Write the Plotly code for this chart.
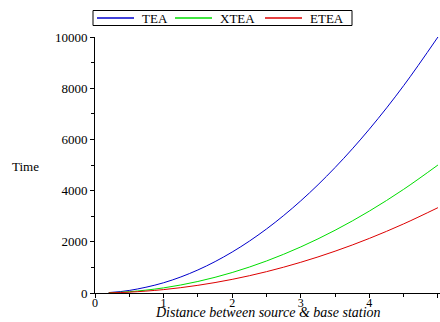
import plotly.graph_objects as go

distance = [0.2, 0.5, 1.0, 1.5, 2.0, 2.5, 3.0, 3.5, 4.0, 4.5, 5.0]
tea = [16, 100, 400, 900, 1600, 2500, 3600, 4900, 6400, 8100, 10000]
xtea = [8, 50, 200, 450, 800, 1250, 1800, 2450, 3200, 4050, 5000]
etea = [5, 33, 133, 300, 533, 833, 1200, 1633, 2133, 2700, 3333]
y_ticks = [0, 2000, 4000, 6000, 8000, 10000]
x_ticks = [0, 1, 2, 3, 4, 5]
series_names = ["TEA", "XTEA", "ETEA"]
series_colors = ["#0000cc", "#00dd00", "#dd0000"]

W, H = 440, 322
L, R, T, B = 95, 0, 37, 29
PW, PH = W - L - R, H - T - B
font = "Liberation Serif"


def px_x(p):
    return (p - L) / PW


def px_y(p):
    return (H - B - p) / PH


fig = go.Figure()
for name, vals, col in zip(series_names, [tea, xtea, etea], series_colors):
    fig.add_trace(go.Scatter(x=distance, y=vals, mode="lines", name=name,
                             line=dict(color=col, width=1, shape="spline")))

# compact legend box as in the reference
shapes = [dict(type="rect", xref="paper", yref="paper",
               x0=px_x(93), x1=px_x(352), y0=px_y(25.5), y1=px_y(10.5),
               line=dict(color="black", width=1), fillcolor="white", layer="above")]
annotations = []
line_starts = [97, 175, 265]
for name, col, x0 in zip(series_names, series_colors, line_starts):
    shapes.append(dict(type="line", xref="paper", yref="paper",
                       x0=px_x(x0), x1=px_x(x0 + 37), y0=px_y(18), y1=px_y(18),
                       line=dict(color=col, width=1.3), layer="above"))
    annotations.append(dict(text=name, xref="paper", yref="paper",
                            x=px_x(x0 + 43), y=px_y(18), xanchor="left", yanchor="middle",
                            showarrow=False, font=dict(family=font, size=13, color="black")))

annotations.append(dict(text="Time", xref="paper", yref="paper", x=px_x(25), y=px_y(166),
                        xanchor="center", yanchor="middle", showarrow=False,
                        font=dict(family=font, size=13, color="black")))
annotations.append(dict(text="<i>Distance between source &amp; base station</i>",
                        xref="paper", yref="paper", x=px_x(268), y=px_y(322),
                        xanchor="center", yanchor="bottom", showarrow=False,
                        font=dict(family=font, size=14, color="black")))

fig.update_layout(
    width=W, height=H,
    margin=dict(l=L, r=R, t=T, b=B, autoexpand=False),
    paper_bgcolor="white", plot_bgcolor="white",
    font=dict(family=font, size=13, color="black"),
    showlegend=False,
    xaxis=dict(range=[0, 5.03], tickvals=x_ticks, ticktext=[str(v) for v in x_ticks],
               showgrid=False, zeroline=False, automargin=False,
               showline=True, linecolor="black", linewidth=1,
               ticks="outside", ticklen=4, tickcolor="black", ticklabelstandoff=-5,
               minor=dict(tickvals=[0.5, 1.5, 2.5, 3.5, 4.5], ticks="outside", ticklen=3, tickcolor="black"),
               tickfont=dict(family=font, size=12)),
    yaxis=dict(range=[0, 10000], tickvals=y_ticks, ticktext=[str(v) for v in y_ticks],
               showgrid=False, zeroline=False, automargin=False,
               showline=True, linecolor="black", linewidth=1,
               ticks="outside", ticklen=4, tickcolor="black",
               minor=dict(tickvals=[1000, 3000, 5000, 7000, 9000], ticks="outside", ticklen=3, tickcolor="black"),
               tickfont=dict(family=font, size=13)),
    shapes=shapes,
    annotations=annotations,
)

fig.write_html("out.html", config={"displayModeBar": False},
               post_script="document.body.style.margin='0';document.body.style.overflow='hidden';")
